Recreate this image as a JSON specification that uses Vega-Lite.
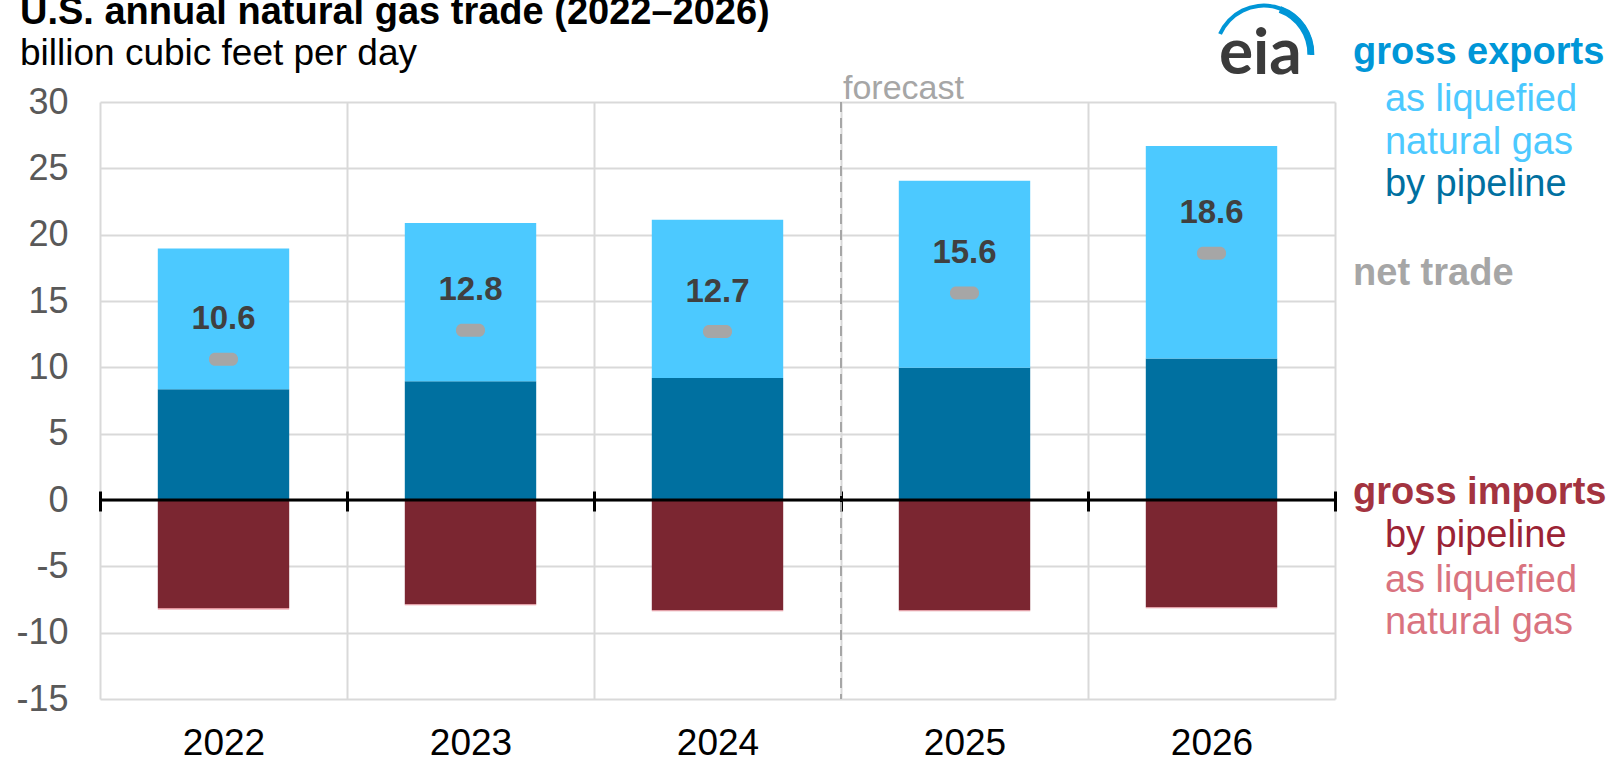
{
  "$schema": "https://vega.github.io/schema/vega-lite/v6.json",
  "width": 1235,
  "height": 597,
  "autosize": {"type": "none"},
  "padding": {"left": 100, "top": 102, "right": 276, "bottom": 63},
  "background": "white",
  "config": {
    "view": {"stroke": null},
    "font": "Liberation Sans",
    "axis": {"labelFont": "Liberation Sans"}
  },
  "title": {
    "text": "U.S. annual natural gas trade (2022–2026)",
    "subtitle": "billion cubic feet per day",
    "anchor": "start",
    "frame": "group",
    "dx": -80,
    "offset": -68,
    "font": "Liberation Sans",
    "fontSize": 38,
    "fontWeight": "bold",
    "color": "#000000",
    "subtitleFont": "Liberation Sans",
    "subtitleFontSize": 37,
    "subtitleColor": "#000000",
    "subtitlePadding": 4
  },
  "datasets": {
    "trade": [
      {"year": "2022", "series": "exports by pipeline", "order": 1, "value": 8.35},
      {"year": "2022", "series": "exports as LNG", "order": 2, "value": 10.6},
      {"year": "2022", "series": "imports by pipeline", "order": 1, "value": -8.15},
      {"year": "2022", "series": "imports as LNG", "order": 2, "value": -0.1},
      {"year": "2023", "series": "exports by pipeline", "order": 1, "value": 8.96},
      {"year": "2023", "series": "exports as LNG", "order": 2, "value": 11.92},
      {"year": "2023", "series": "imports by pipeline", "order": 1, "value": -7.85},
      {"year": "2023", "series": "imports as LNG", "order": 2, "value": -0.08},
      {"year": "2024", "series": "exports by pipeline", "order": 1, "value": 9.19},
      {"year": "2024", "series": "exports as LNG", "order": 2, "value": 11.93},
      {"year": "2024", "series": "imports by pipeline", "order": 1, "value": -8.31},
      {"year": "2024", "series": "imports as LNG", "order": 2, "value": -0.08},
      {"year": "2025", "series": "exports by pipeline", "order": 1, "value": 9.96},
      {"year": "2025", "series": "exports as LNG", "order": 2, "value": 14.1},
      {"year": "2025", "series": "imports by pipeline", "order": 1, "value": -8.31},
      {"year": "2025", "series": "imports as LNG", "order": 2, "value": -0.08},
      {"year": "2026", "series": "exports by pipeline", "order": 1, "value": 10.66},
      {"year": "2026", "series": "exports as LNG", "order": 2, "value": 16.03},
      {"year": "2026", "series": "imports by pipeline", "order": 1, "value": -8.08},
      {"year": "2026", "series": "imports as LNG", "order": 2, "value": -0.08}
    ],
    "net": [
      {"year": "2022", "net": 10.6},
      {"year": "2023", "net": 12.8},
      {"year": "2024", "net": 12.7},
      {"year": "2025", "net": 15.6},
      {"year": "2026", "net": 18.6}
    ]
  },
  "resolve": {"scale": {"x": "independent"}, "axis": {"x": "independent"}},
  "layer": [
    {
      "data": {"name": "trade"},
      "mark": {"type": "bar", "width": {"band": 0.532}},
      "encoding": {
        "x": {
          "field": "year", "type": "ordinal",
          "scale": {"paddingInner": 0, "paddingOuter": 0},
          "axis": {
            "title": null, "labelAngle": 0, "grid": true, "tickBand": "extent",
            "gridColor": "#d9d9d9", "gridWidth": 2, "domain": false, "ticks": false, "tickSize": 0,
            "labelFontSize": 37, "labelColor": "#000000", "labelPadding": 26
          }
        },
        "y": {
          "field": "value", "type": "quantitative", "stack": "zero",
          "scale": {"domain": [-15, 30], "nice": false},
          "axis": {
            "title": null, "values": [-15, -10, -5, 0, 5, 10, 15, 20, 25, 30],
            "labelExpr": "replace(datum.label, '−', '-')",
            "grid": true, "gridColor": "#d9d9d9", "gridWidth": 2, "domain": false,
            "ticks": false, "tickSize": 0, "labelFontSize": 36, "labelColor": "#595959", "labelPadding": 32
          }
        },
        "color": {
          "field": "series", "type": "nominal", "legend": null,
          "scale": {
            "domain": ["exports by pipeline", "exports as LNG", "imports by pipeline", "imports as LNG"],
            "range": ["#0070a0", "#4cc9ff", "#7b2631", "#e3939c"]
          }
        },
        "order": {"field": "order", "type": "quantitative"}
      }
    },
    {
      "data": {"values": [{}]},
      "mark": {"type": "rule", "color": "#000000", "strokeWidth": 3},
      "encoding": {"y": {"datum": 0, "type": "quantitative"}}
    },
    {
      "data": {"name": "net"},
      "mark": {"type": "tick", "orient": "horizontal", "color": "#a6a6a6", "size": 29, "thickness": 13, "cornerRadius": 6, "opacity": 1},
      "encoding": {
        "x": {
          "field": "year", "type": "ordinal",
          "scale": {"paddingInner": 0, "paddingOuter": 0},
          "axis": {
            "orient": "top", "offset": -409, "title": null, "labels": false, "grid": false, "domain": false,
            "ticks": true, "tickBand": "extent", "tickSize": 20, "tickWidth": 3, "tickColor": "#000000"
          }
        },
        "y": {"field": "net", "type": "quantitative"}
      }
    },
    {
      "data": {"name": "net"},
      "mark": {"type": "text", "fontSize": 33, "fontWeight": "bold", "color": "#404040", "baseline": "alphabetic", "dy": -30},
      "encoding": {
        "x": {"field": "year", "type": "ordinal", "scale": {"paddingInner": 0, "paddingOuter": 0}, "axis": null},
        "y": {"field": "net", "type": "quantitative"},
        "text": {"field": "net", "type": "quantitative", "format": ".1f"}
      }
    },
    {
      "data": {"values": [{}]},
      "mark": {"type": "rule", "color": "#a6a6a6", "strokeWidth": 2, "strokeDash": [10, 6]},
      "encoding": {
        "x": {"datum": 3, "type": "quantitative", "scale": {"domain": [0, 5], "nice": false, "zero": false}, "axis": null},
        "y": {"datum": 30, "type": "quantitative"},
        "y2": {"datum": -15}
      }
    },
    {
      "data": {"values": [{}]},
      "mark": {"type": "text", "text": "forecast", "align": "left", "baseline": "alphabetic", "dx": 2, "dy": -3, "fontSize": 34, "color": "#a6a6a6"},
      "encoding": {
        "x": {"datum": 3, "type": "quantitative", "scale": {"domain": [0, 5], "nice": false, "zero": false}, "axis": null},
        "y": {"datum": 30, "type": "quantitative"}
      }
    },
    {
      "data": {"values": [{}]},
      "mark": {"type": "text", "text": "eia", "align": "left", "baseline": "alphabetic", "font": "Lato", "fontWeight": "bold", "fontSize": 64, "color": "#3b3b3b"},
      "encoding": {
        "x": {"datum": 4.53, "type": "quantitative", "scale": {"domain": [0, 5], "nice": false, "zero": false}, "axis": null},
        "y": {"datum": 32.1, "type": "quantitative"}
      }
    },
    {
      "data": {"values": [{}]},
      "mark": {"type": "arc", "theta": -1.15, "theta2": 1.6, "radius": 50, "radius2": 46, "color": "#0096d7"},
      "encoding": {
        "x": {"datum": 4.712, "type": "quantitative", "scale": {"domain": [0, 5], "nice": false, "zero": false}, "axis": null},
        "y": {"datum": 33.65, "type": "quantitative"}
      }
    },
    {
      "data": {"values": [{}]},
      "mark": {"type": "arc", "theta": 0.35, "theta2": 1.6, "radius": 50.5, "radius2": 43.5, "color": "#0096d7"},
      "encoding": {
        "x": {"datum": 4.712, "type": "quantitative", "scale": {"domain": [0, 5], "nice": false, "zero": false}, "axis": null},
        "y": {"datum": 33.65, "type": "quantitative"}
      }
    },
    {
      "data": {"values": [{}]},
      "mark": {"type": "text", "text": "gross exports", "align": "left", "baseline": "alphabetic", "fontSize": 38, "fontWeight": "bold", "color": "#0096d7"},
      "encoding": {
        "x": {"datum": 5.073, "type": "quantitative", "scale": {"domain": [0, 5], "nice": false, "zero": false}, "axis": null},
        "y": {"datum": 32.86, "type": "quantitative"}
      }
    },
    {
      "data": {"values": [{}]},
      "mark": {"type": "text", "text": "as liquefied", "align": "left", "baseline": "alphabetic", "fontSize": 38, "color": "#4cc9ff"},
      "encoding": {
        "x": {"datum": 5.202, "type": "quantitative", "scale": {"domain": [0, 5], "nice": false, "zero": false}, "axis": null},
        "y": {"datum": 29.32, "type": "quantitative"}
      }
    },
    {
      "data": {"values": [{}]},
      "mark": {"type": "text", "text": "natural gas", "align": "left", "baseline": "alphabetic", "fontSize": 38, "color": "#4cc9ff"},
      "encoding": {
        "x": {"datum": 5.202, "type": "quantitative", "scale": {"domain": [0, 5], "nice": false, "zero": false}, "axis": null},
        "y": {"datum": 26.08, "type": "quantitative"}
      }
    },
    {
      "data": {"values": [{}]},
      "mark": {"type": "text", "text": "by pipeline", "align": "left", "baseline": "alphabetic", "fontSize": 38, "color": "#0070a0"},
      "encoding": {
        "x": {"datum": 5.202, "type": "quantitative", "scale": {"domain": [0, 5], "nice": false, "zero": false}, "axis": null},
        "y": {"datum": 22.91, "type": "quantitative"}
      }
    },
    {
      "data": {"values": [{}]},
      "mark": {"type": "text", "text": "net trade", "align": "left", "baseline": "alphabetic", "fontSize": 38, "fontWeight": "bold", "color": "#a6a6a6"},
      "encoding": {
        "x": {"datum": 5.073, "type": "quantitative", "scale": {"domain": [0, 5], "nice": false, "zero": false}, "axis": null},
        "y": {"datum": 16.21, "type": "quantitative"}
      }
    },
    {
      "data": {"values": [{}]},
      "mark": {"type": "text", "text": "gross imports", "align": "left", "baseline": "alphabetic", "fontSize": 38, "fontWeight": "bold", "color": "#a33340"},
      "encoding": {
        "x": {"datum": 5.073, "type": "quantitative", "scale": {"domain": [0, 5], "nice": false, "zero": false}, "axis": null},
        "y": {"datum": -0.3, "type": "quantitative"}
      }
    },
    {
      "data": {"values": [{}]},
      "mark": {"type": "text", "text": "by pipeline", "align": "left", "baseline": "alphabetic", "fontSize": 38, "color": "#9b2335"},
      "encoding": {
        "x": {"datum": 5.202, "type": "quantitative", "scale": {"domain": [0, 5], "nice": false, "zero": false}, "axis": null},
        "y": {"datum": -3.54, "type": "quantitative"}
      }
    },
    {
      "data": {"values": [{}]},
      "mark": {"type": "text", "text": "as liquefied", "align": "left", "baseline": "alphabetic", "fontSize": 38, "color": "#d9737f"},
      "encoding": {
        "x": {"datum": 5.202, "type": "quantitative", "scale": {"domain": [0, 5], "nice": false, "zero": false}, "axis": null},
        "y": {"datum": -6.93, "type": "quantitative"}
      }
    },
    {
      "data": {"values": [{}]},
      "mark": {"type": "text", "text": "natural gas", "align": "left", "baseline": "alphabetic", "fontSize": 38, "color": "#d9737f"},
      "encoding": {
        "x": {"datum": 5.202, "type": "quantitative", "scale": {"domain": [0, 5], "nice": false, "zero": false}, "axis": null},
        "y": {"datum": -10.1, "type": "quantitative"}
      }
    }
  ]
}
